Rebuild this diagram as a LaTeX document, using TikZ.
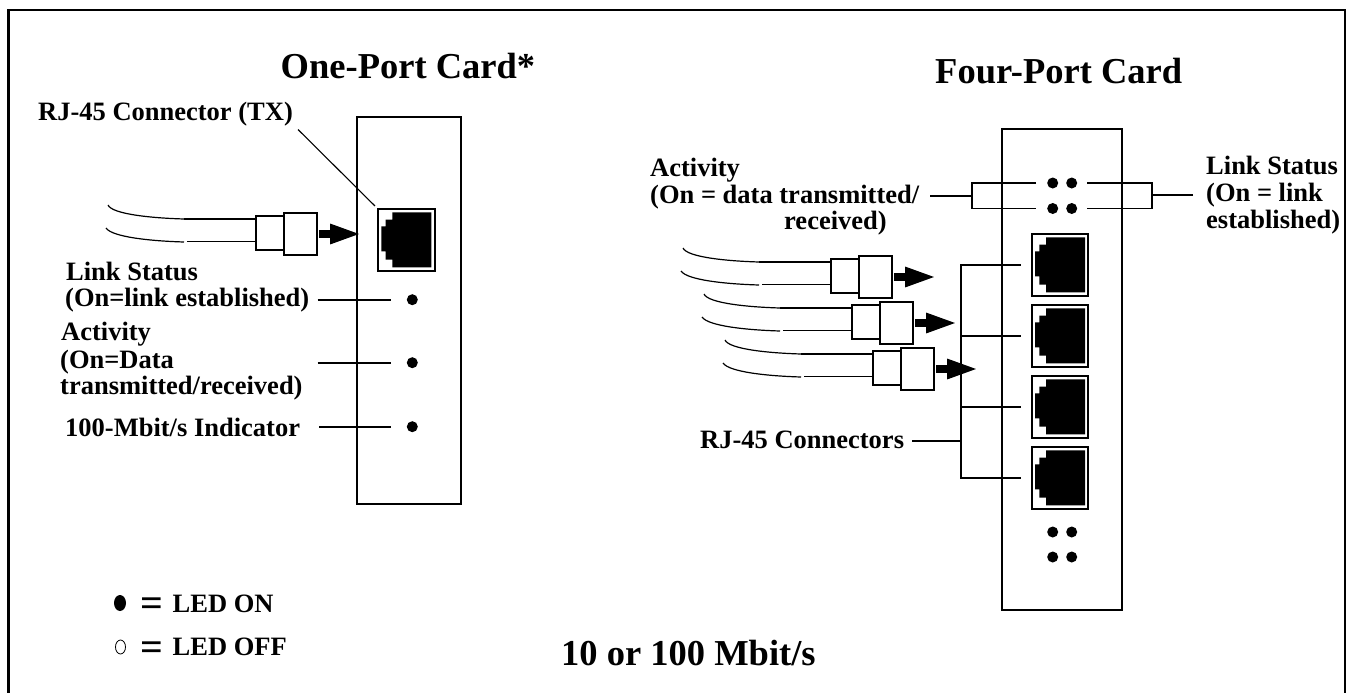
\documentclass[tikz,border=0pt]{standalone}
\usepackage{fontspec}
\setmainfont{Liberation Serif}
\usetikzlibrary{arrows.meta, calc, shapes.geometric}

\begin{document}
\begin{tikzpicture}[
        x=1pt,
        y=-1pt,
        outerline/.style={line width=2.6pt},
        cardbox/.style={line width=2pt},
        lbl/.style={font=\fontsize{26.5}{27}\selectfont\bfseries, inner sep=0pt, anchor=base west, align=left},
        cardtitle/.style={font=\fontsize{36.5}{40}\selectfont\bfseries, inner sep=0pt, anchor=base west},
        eqsign/.style={font=\fontsize{40}{40}\selectfont\bfseries, inner sep=0pt, anchor=base west},
        leader/.style={line width=1.8pt},
        led/.style={circle, fill=black, inner sep=0pt, minimum size=11pt},
        cable/.style={line width=1.2pt},
        boot/.style={draw, line width=2pt, inner sep=0pt},
        plugarrow/.style={line width=8pt, -{Triangle[length=32pt,width=18pt]}},
        jack/.style={draw, line width=2pt, inner sep=0pt, minimum width=56.5pt, minimum height=62pt, anchor=north west,
            path picture={
                \fill (-13.95,-27.7) -- (25.05,-27.7) -- (25.05,27.3) -- (-13.95,27.3) -- (-13.95,19.7) -- (-20.55,19.7)
                    -- (-20.55,11.3) -- (-24.95,11.3) -- (-24.95,-13.7) -- (-20.55,-13.7) -- (-20.55,-20.3) -- (-13.95,-20.3) -- cycle;
            }}
    ]
        \useasboundingbox (0,0) rectangle (1347,693);
        \draw[outerline] (8.7,693) -- (8.7,10) -- (1345,10) -- (1345,693);

        % titles
        \node[cardtitle] (titleone) at (280.5,78) {One-Port Card*};
        \node[cardtitle] (titlefour) at (935,83.3) {Four-Port Card};
        \node[cardtitle] (speed) at (561,665) {10 or 100 Mbit/s};

        % one-port card
        \node[draw, cardbox, inner sep=0pt, minimum width=103.5pt, minimum height=387pt, anchor=north west] (cardone) at (356,116) {};
        \node[jack] (jackone) at (377,208) {};
        \node[led] (ledlink) at (412.3,299.7) {};
        \node[led] (ledact) at (412.3,362.7) {};
        \node[led] (ledspeed) at (412.3,426.7) {};

        \node[lbl] (rjone) at (38,121) {RJ-45 Connector (TX)};
        \node[lbl] (linklbl) at (66,280) {Link Status};
        \node[lbl] (linklblb) at (65,306.7) {(On=link established)};
        \node[lbl] (actlbl) at (61,340) {Activity};
        \node[lbl] (actlblb) at (60,368) {(On=Data};
        \node[lbl] (actlblc) at (60,394) {transmitted/received)};
        \node[lbl] (speedlbl) at (65,436) {100-Mbit/s Indicator};

        \coordinate (rjend) at (298,129.5);
        \coordinate (linkend) at (317.7,299.7);
        \coordinate (actend) at (317.7,362.7);
        \coordinate (speedend) at (319,426.7);
        \draw[line width=1.1pt, shorten >=3pt] (rjend) -- (jackone.north west);
        \foreach \n in {link,act,speed} {
            \draw[leader, shorten >=16pt] (\n end) -- (led\n.west);
        }

        % plugs, the first one belongs to the one-port card
        \foreach \dx/\dy/\n in {0/0/a,575/43/b,596/89/c,617/135/d} {
            \begin{scope}[shift={(\dx,\dy)}]
                \node[boot, minimum width=28.3pt, minimum height=34pt] (boota\n) at (270,233) {};
                \node[boot, minimum width=33pt, minimum height=42pt] (bootb\n) at (300.3,234) {};
                \coordinate (cabt\n) at (108,205);
                \coordinate (kinkt\n) at (184,219);
                \coordinate (cabb\n) at (106,228);
                \coordinate (kinkb\n) at (184,242);
                \coordinate (gapb\n) at (187,241.3);
                \coordinate (arrs\n) at (319,234);
                \coordinate (arre\n) at (362,234);
                \draw[cable] (cabt\n) .. controls (112,214) and (150,218) .. (kinkt\n);
                \draw[leader] (kinkt\n) -- (boota\n.west |- kinkt\n);
                \draw[cable] (cabb\n) .. controls (112,237) and (150,241) .. (kinkb\n);
                \draw[cable] (gapb\n) -- (boota\n.west |- gapb\n);
                \draw[plugarrow] (arrs\n) -- (arre\n);
            \end{scope}
        }

        % four-port card
        \node[draw, cardbox, inner sep=0pt, minimum width=120pt, minimum height=481pt, anchor=north west] (cardfour) at (1001,128) {};
        \foreach \i/\y in {1/233,2/304,3/375,4/446} {
            \node[jack] (jackf\i) at (1030.7,\y) {};
        }
        \foreach \n/\x/\y in {tl/1052.7/183,tr/1071.7/183,bl/1052.7/208.5,br/1071.7/208.5,xa/1052.7/532,xb/1071.7/532,xc/1052.7/557,xd/1071.7/557} {
            \node[led] (led\n) at (\x,\y) {};
        }

        \node[lbl] (actf) at (650,176) {Activity};
        \node[lbl] (actfb) at (650,203.3) {(On = data transmitted/};
        \node[lbl] (actfc) at (784,229) {received)};
        \node[lbl] (linkf) at (1206,174) {Link Status};
        \node[lbl] (linkfb) at (1206,201.7) {(On = link};
        \node[lbl] (linkfc) at (1206,228) {established)};
        \node[lbl] (rjfour) at (700,448) {RJ-45 Connectors};

        \coordinate (brkl) at (972,195.7);
        \coordinate (brkr) at (1152,195.2);
        \coordinate (stubl) at (930,195.7);
        \coordinate (stubr) at (1193,195.2);
        \coordinate (bus) at (961,440.7);
        \coordinate (stubbus) at (912,440.7);
        \draw[leader] (stubl) -- (brkl);
        \draw[leader] (stubr) -- (brkr);
        \draw[leader, shorten <=11pt, shorten >=11pt] (ledtl.west) -| (brkl) |- (ledbl.west);
        \draw[leader, shorten <=10pt, shorten >=10pt] (ledtr.east) -| (brkr) |- (ledbr.east);
        \draw[leader, shorten <=10pt, shorten >=10pt] (jackf1.west) -| (bus) |- (jackf4.west);
        \draw[leader] (stubbus) -- (bus);
        \foreach \i in {2,3} {
            \draw[leader, shorten <=10pt] (jackf\i.west) -- (jackf\i.west -| bus);
        }

        % legend
        \node[ellipse, fill=black, inner sep=0pt, minimum width=12pt, minimum height=16pt] (ledon) at (120,603) {};
        \node[ellipse, draw, line width=0.8pt, inner sep=0pt, minimum width=10pt, minimum height=14pt] (ledoff) at (120.5,647) {};
        \node[eqsign] (eqon) at (140,616) {=};
        \node[eqsign] (eqoff) at (140,660) {=};
        \node[lbl] (ledonlbl) at (172.5,612) {LED ON};
        \node[lbl] (ledofflbl) at (172.5,655) {LED OFF};
    \end{tikzpicture}
\end{document}
